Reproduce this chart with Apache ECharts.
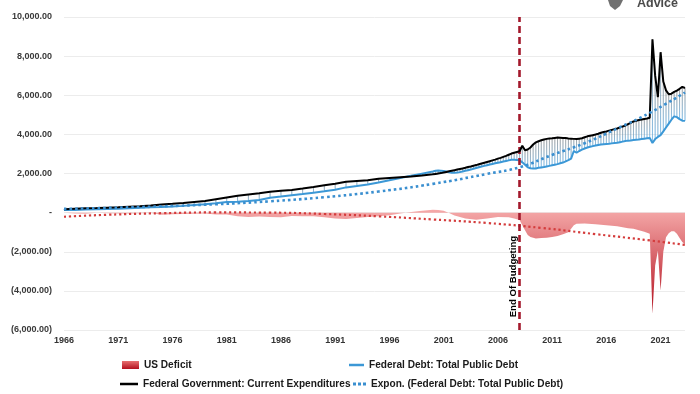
<!DOCTYPE html>
<html><head><meta charset="utf-8">
<script src="https://cdn.jsdelivr.net/npm/echarts@6/dist/echarts.min.js"></script>
<style>html,body{margin:0;padding:0;background:#fff}#c{width:700px;height:394px}</style>
</head><body><div id="c"></div>
<script>
// ---------- DATA ----------
const annualStartYear = 1966;      // annual points 1966..1999
const quarterlyStartYear = 2000;   // quarterly points 2000Q1..2023Q2

const expendAnnual = [170,195,220,235,255,275,300,320,360,420,450,490,540,590,680,770,860,930,990,1070,1120,1160,1230,1310,1400,1480,1580,1620,1660,1730,1770,1810,1850,1900];
const debtAnnual   = [130,140,160,175,190,200,220,245,270,285,310,345,385,430,480,540,560,590,650,760,820,890,950,1020,1090,1170,1290,1360,1440,1540,1650,1770,1880,1990];

const expendQuarterly = [
  1960,1980,2000,2020, 2050,2080,2110,2140, 2170,2200,2230,2260, 2290,2330,2360,2400,
  2430,2470,2510,2550, 2590,2630,2670,2710, 2760,2800,2850,2900, 2960,3020,3060,3100,
  3140,3420,3190,3230, 3330,3480,3590,3650, 3700,3740,3770,3790, 3800,3820,3840,3830,
  3820,3810,3790,3780, 3770,3760,3780,3800, 3850,3900,3930,3960, 3990,4030,4080,4120,
  4150,4190,4230,4270, 4300,4360,4400,4450, 4520,4590,4660,4700, 4730,4760,4790,4810,
  4850,8860,7000,5900, 8200,6700,6250,6050, 6080,6170,6240,6330, 6430,6370
];
const debtQuarterly = [
  2100,2140,2150,2140, 2130,2100,2060,2040, 2040,2050,2070,2100, 2140,2170,2200,2240,
  2280,2320,2360,2390, 2420,2460,2490,2520, 2550,2580,2610,2640, 2670,2700,2700,2690,
  2680,2570,2450,2320, 2270,2250,2260,2290, 2310,2330,2360,2390, 2420,2450,2480,2520,
  2560,2620,2680,2760, 3150,3060,3150,3220, 3280,3330,3370,3400, 3430,3460,3480,3500,
  3510,3520,3540,3560, 3570,3600,3630,3660, 3680,3690,3710,3730, 3740,3760,3780,3800,
  3820,3560,3760,3870, 3960,4150,4350,4550, 4750,4920,4880,4780, 4700,4690
];

const deficit = [
  [1966,-10],[1967,-40],[1968,-60],[1969,0],[1970,-30],[1971,-50],[1972,-40],[1973,-30],[1974,-20],
  [1975,-110],[1976,-80],[1977,-70],[1978,-60],[1979,-40],[1980,-100],[1981,-90],[1982,-190],
  [1983,-220],[1984,-200],[1985,-230],[1986,-240],[1987,-170],[1988,-180],[1989,-180],[1990,-240],
  [1991,-300],[1992,-320],[1993,-280],[1994,-220],[1995,-180],[1996,-130],[1997,-40],[1998,30],
  [1999,90],[2000,150],[2000.5,140],[2001,90],[2001.5,-20],[2002,-150],[2003,-300],[2004,-360],
  [2005,-300],[2006,-230],[2007,-240],[2007.5,-300],[2008,-380],[2008.25,-650],[2008.5,-900],
  [2008.75,-1150],[2009,-1250],[2009.5,-1320],[2010,-1300],[2010.5,-1280],[2011,-1250],[2011.5,-1200],
  [2012,-1100],[2012.5,-1000],[2013,-650],[2013.25,-570],[2014,-560],[2015,-590],[2016,-640],
  [2017,-700],[2018,-800],[2018.5,-830],[2019,-900],[2019.5,-980],[2020,-1080],[2020.25,-5170],
  [2020.5,-2700],[2020.75,-1950],[2021,-3980],[2021.25,-2000],[2021.5,-1260],[2021.75,-1050],
  [2022,-950],[2022.25,-950],[2022.5,-1080],[2022.75,-1300],[2023,-1500],[2023.25,-1620]
];

const debtTrend = [[1966,190],[1970,240],[1975,320],[1980,430],[1985,580],[1990,790],[1995,1080],
  [2000,1470],[2005,1980],[2008,2320],[2011,2950],[2014,3550],[2017,4300],[2020,5100],[2023.25,6140]];
const deficitTrend = [[1966,-210],[1970,-110],[1975,-30],[1980,10],[1985,0],[1990,-70],[1995,-190],
  [2000,-350],[2005,-530],[2010,-780],[2015,-1100],[2020,-1420],[2023.25,-1650]];

const xTickYears = [1966,1971,1976,1981,1986,1991,1996,2001,2006,2011,2016,2021];
const endOfBudgeting = 2008.0;
const names = {
  deficit: 'US Deficit',
  debt: 'Federal Debt: Total Public Debt',
  expend: 'Federal Government: Current Expenditures',
  trend: 'Expon. (Federal Debt: Total Public Debt)'
};

// ---------- BUILD ----------
const dates = [];
expendAnnual.forEach((_, i) => dates.push(annualStartYear + i));
expendQuarterly.forEach((_, j) => dates.push(quarterlyStartYear + j / 4));
const expendAll = expendAnnual.concat(expendQuarterly);
const debtAll = debtAnnual.concat(debtQuarterly);
const expendSeries = dates.map((d, i) => [d, expendAll[i]]);
const debtSeries = dates.map((d, i) => [d, debtAll[i]]);
const dropLines = dates.map((d, i) => [d, expendAll[i], debtAll[i]]);

const FONT = "'Liberation Sans',Arial,sans-serif";
const G = echarts.graphic;
const deficitGrad = new G.LinearGradient(0, 0, 0, 1, [
  {offset: 0, color: '#f5a9a9'}, {offset: 1, color: '#b3101e'}]);
const legendGrad = new G.LinearGradient(0, 0, 0, 1, [
  {offset: 0, color: '#e87070'}, {offset: 1, color: '#b3101e'}]);

function yFmt(v) {
  if (v === 0) return '-';
  const s = Math.abs(v).toLocaleString('en-US', {minimumFractionDigits: 2, maximumFractionDigits: 2});
  return v < 0 ? '(' + s + ')' : s;
}

const legendText = {fontFamily: FONT, fontWeight: 'bold', fontSize: 10.1, color: '#1a1a1a'};
const dotIcon = 'path://M0,0h3v3h-3z M5,0h3v3h-3z M10,0h3v3h-3z';

const chart = echarts.init(document.getElementById('c'), null, {renderer: 'canvas'});
chart.setOption({
  animation: false,
  backgroundColor: '#fff',
  grid: {left: 64, right: 15, top: 17, bottom: 64},
  xAxis: {
    type: 'value', min: 1966, max: 2023.25, interval: 5,
    axisLine: {show: false}, axisTick: {show: false}, splitLine: {show: false},
    axisLabel: {
      margin: 6, fontFamily: FONT, fontWeight: 'bold', fontSize: 9, color: '#333',
      formatter: v => xTickYears.includes(v) ? String(v) : ''
    }
  },
  yAxis: {
    type: 'value', min: -6000, max: 10000, interval: 2000,
    axisLine: {show: false}, axisTick: {show: false},
    splitLine: {lineStyle: {color: '#ececec', width: 1}},
    axisLabel: {margin: 12, fontFamily: FONT, fontWeight: 'bold', fontSize: 9, color: '#3a3a3a', formatter: yFmt}
  },
  legend: [
    {left: 122, top: 360, padding: 0, itemWidth: 17, itemHeight: 8, textStyle: legendText,
      data: [{name: names.deficit, icon: 'rect', itemStyle: {color: legendGrad}}]},
    {left: 349, top: 360, padding: 0, itemWidth: 15, itemHeight: 2.5, textStyle: legendText,
      data: [{name: names.debt, icon: 'rect'}]},
    {left: 120, top: 379, padding: 0, itemWidth: 18, itemHeight: 2.5, textStyle: legendText,
      data: [{name: names.expend, icon: 'rect'}]},
    {left: 353, top: 379, padding: 0, itemWidth: 13, itemHeight: 3, textStyle: legendText,
      data: [{name: names.trend, icon: dotIcon}]}
  ],
  series: [
    {
      name: names.deficit, type: 'line', data: deficit, symbol: 'none', z: 1,
      lineStyle: {width: 0}, areaStyle: {color: deficitGrad, opacity: 1}, itemStyle: {color: '#c8202e'}
    },
    {
      name: 'deficitTrend', type: 'line', data: deficitTrend, symbol: 'none', smooth: true, z: 2,
      lineStyle: {color: '#d43c3c', width: 2.2, type: [2.2, 2.8]}
    },
    {
      name: 'drop', type: 'custom', data: dropLines, z: 3, encode: {x: 0, y: [1, 2]}, silent: true,
      renderItem: function (params, api) {
        const x = api.value(0), a = api.value(1), b = api.value(2);
        const p1 = api.coord([x, Math.max(a, b)]);
        const p2 = api.coord([x, Math.min(a, b)]);
        return {
          type: 'line',
          shape: {x1: p1[0], y1: p1[1], x2: p2[0], y2: p2[1]},
          style: {
            stroke: new G.LinearGradient(0, 0, 0, 1, [
              {offset: 0, color: 'rgba(110,110,110,0.55)'}, {offset: 1, color: 'rgba(80,165,225,0.65)'}]),
            lineWidth: 0.7
          }
        };
      }
    },
    {
      name: names.debt, type: 'line', data: debtSeries, symbol: 'none', z: 4,
      lineStyle: {color: '#3c98d6', width: 2}, itemStyle: {color: '#3c98d6'}
    },
    {
      name: names.expend, type: 'line', data: expendSeries, symbol: 'none', z: 5,
      lineStyle: {color: '#000', width: 2}, itemStyle: {color: '#000'},
      markLine: {
        silent: true, symbol: 'none', animation: false,
        label: {show: false},
        lineStyle: {color: '#a3192c', width: 2.6, type: [7, 4]},
        data: [{xAxis: endOfBudgeting}]
      }
    },
    {
      name: names.trend, type: 'line', data: debtTrend, symbol: 'none', smooth: true, z: 6,
      lineStyle: {color: '#3a8fd0', width: 2.6, type: [2.6, 3]}, itemStyle: {color: '#3a8fd0'}
    }
  ]
});

const p = chart.convertToPixel({gridIndex: 0}, [endOfBudgeting, -3270]);
chart.setOption({
  graphic: [
    {type: 'text', x: p[0] - 6.5, y: p[1], rotation: Math.PI / 2, silent: true,
      style: {text: 'End Of Budgeting', fontFamily: FONT, fontSize: 9.6, fontWeight: 'bold',
        fill: '#000', align: 'center', verticalAlign: 'middle'}},
    {type: 'polygon', silent: true,
      shape: {points: [[608, 0], [623, 0], [620, 6], [615, 10], [610, 6]]},
      style: {fill: '#707070'}},
    {type: 'text', x: 637, y: -3, silent: true,
      style: {text: 'Advice', fontFamily: FONT, fontSize: 12.5, fontWeight: 'bold', fill: '#4a4a4a'}}
  ]
});
</script>
</body></html>
